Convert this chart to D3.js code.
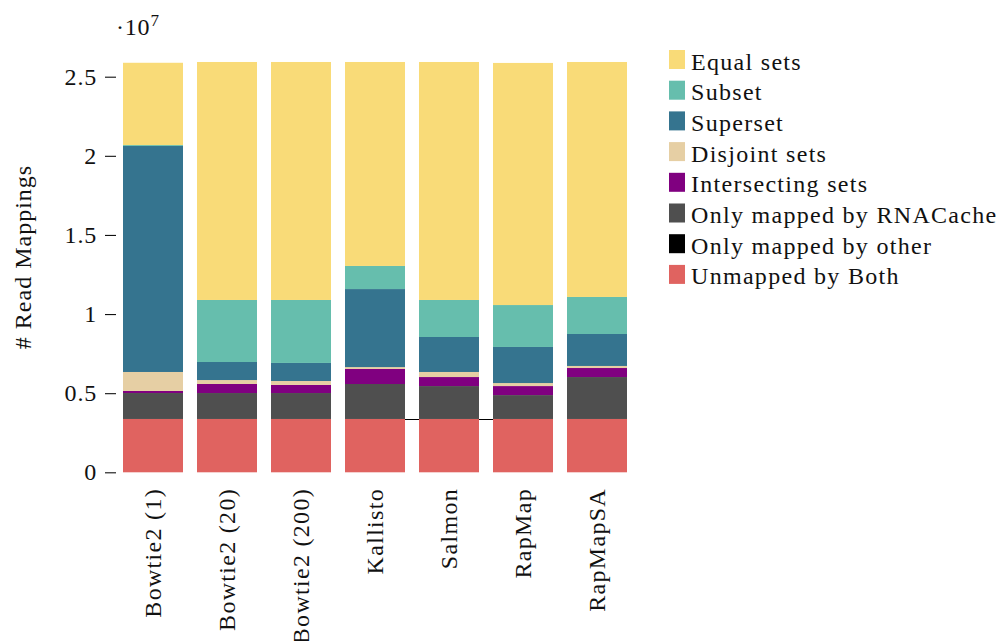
<!DOCTYPE html>
<html>
<head>
<meta charset="utf-8">
<script src="https://cdn.jsdelivr.net/npm/d3@7"></script>
<style>
  html, body { margin: 0; padding: 0; background: #fff; }
  svg text { font-family: "Liberation Serif", "Times New Roman", serif; fill: #111; }
</style>
</head>
<body>
<svg id="chart" width="999" height="641"></svg>
<script>
// ---- data ----
const categories = ["Bowtie2 (1)", "Bowtie2 (20)", "Bowtie2 (200)", "Kallisto", "Salmon", "RapMap", "RapMapSA"];
const seriesNames = ["Unmapped by Both", "Only mapped by other", "Only mapped by RNACache",
  "Intersecting sets", "Disjoint sets", "Superset", "Subset", "Equal sets"];
const unmappedBoth   = [3370000, 3370000, 3370000, 3370000, 3370000, 3370000, 3370000];
const onlyOther      = [0, 0, 0, 0, 0, 0, 0];
const onlyRNACache   = [1640000, 1640000, 1640000, 2210000, 2080000, 1510000, 2650000];
const intersecting   = [130000, 570000, 510000, 950000, 570000, 570000, 570000];
const disjoint       = [1200000, 250000, 250000, 120000, 320000, 190000, 130000];
const superset       = [14280000, 1140000, 1140000, 4930000, 2210000, 2280000, 2020000];
const subset         = [60000, 3920000, 3980000, 1460000, 2340000, 2650000, 2340000];
const equalSets      = [5200000, 15040000, 15040000, 12890000, 15040000, 15300000, 14850000];
const yTicks = [0, 5000000, 10000000, 15000000, 20000000, 25000000];
const legendOrder = ["Equal sets", "Subset", "Superset", "Disjoint sets", "Intersecting sets",
  "Only mapped by RNACache", "Only mapped by other", "Unmapped by Both"];
const colors = {
  "Equal sets": "#F9DB78",
  "Subset": "#66BEAD",
  "Superset": "#35748F",
  "Disjoint sets": "#E6CFA4",
  "Intersecting sets": "#800080",
  "Only mapped by RNACache": "#4F4F4F",
  "Only mapped by other": "#000000",
  "Unmapped by Both": "#E06360"
};
const linkedOther = ["Kallisto", "Salmon", "RapMap"];

const seriesValues = [unmappedBoth, onlyOther, onlyRNACache, intersecting, disjoint, superset, subset, equalSets];
const table = categories.map((c, i) => {
  const row = { category: c };
  seriesNames.forEach((s, k) => { row[s] = seriesValues[k][i]; });
  return row;
});

const svg = d3.select("#chart");
const fontSize = 24, ls = 1.3;

const x = d3.scaleBand().domain(categories).range([116, 634])
  .paddingInner(14 / 74).paddingOuter(7 / 74);
const y = d3.scaleLinear().domain([0, 27000000]).range([472.3, 472.3 - 2.7 * 158.24]);

const stack = d3.stack().keys(seriesNames);
const stacked = stack(table);

// black connecting line of "Only mapped by other" (drawn behind bars)
const otherSeries = stacked[1];
const linePts = otherSeries.filter(d => linkedOther.includes(d.data.category));
svg.append("line")
  .attr("x1", x(linePts[0].data.category) + x.bandwidth() / 2)
  .attr("x2", x(linePts[linePts.length - 1].data.category) + x.bandwidth() / 2)
  .attr("y1", Math.round(y(linePts[0][1])) + 0.5)
  .attr("y2", Math.round(y(linePts[0][1])) + 0.5)
  .attr("stroke", "#000").attr("stroke-width", 1.2);

svg.append("g").selectAll("g").data(stacked).join("g")
  .attr("fill", d => colors[d.key])
  .selectAll("rect").data(d => d).join("rect")
  .attr("x", d => x(d.data.category))
  .attr("width", x.bandwidth())
  .attr("y", d => y(d[1]))
  .attr("height", d => Math.max(0, y(d[0]) - y(d[1])));

// y axis
const yAxis = d3.axisLeft(y).tickValues(yTicks)
  .tickFormat(d => d3.format("~g")(d / 1e7))
  .tickSize(11).tickPadding(8);
const gy = svg.append("g").attr("transform", "translate(116,0)").call(yAxis);
gy.select(".domain").remove();
gy.selectAll(".tick line").attr("stroke", "#111").attr("stroke-width", 1.1);
gy.selectAll(".tick text").style("font-size", fontSize + "px").attr("fill", "#111")
  .attr("font-family", "Liberation Serif").style("letter-spacing", "0.8px");

// exponent label
const expo = svg.append("text").attr("x", 116).attr("y", 35).style("font-size", fontSize + "px")
  .style("letter-spacing", "0.8px");
expo.append("tspan").text("·10");
expo.append("tspan").attr("dy", -9).style("font-size", "17px").text("7");

// y title
svg.append("text")
  .attr("transform", "translate(31,257) rotate(-90)")
  .attr("text-anchor", "middle")
  .style("font-size", fontSize + "px")
  .style("letter-spacing", "1px")
  .text("# Read Mappings");

// x labels
svg.append("g").selectAll("text").data(categories).join("text")
  .attr("transform", d => `translate(${x(d) + x.bandwidth() / 2 + 8},488) rotate(-90)`)
  .attr("text-anchor", "end")
  .style("font-size", fontSize + "px")
  .style("letter-spacing", "1.3px")
  .text(d => d);

// legend
const lg = svg.append("g").selectAll("g").data(legendOrder).join("g")
  .attr("transform", (d, i) => `translate(669,${50 + i * 30.7})`);
lg.append("rect").attr("width", 16).attr("height", 19).attr("fill", d => colors[d]);
lg.append("text").attr("x", 22).attr("y", 19.5)
  .style("font-size", fontSize + "px")
  .style("letter-spacing", ls + "px")
  .text(d => d);
</script>
</body>
</html>
